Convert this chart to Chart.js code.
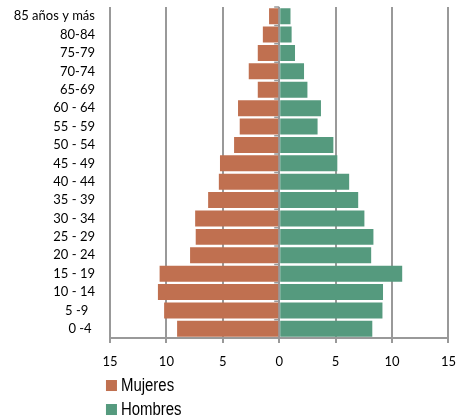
<!DOCTYPE html>
<html>
<head>
<meta charset="utf-8">
<script src="https://cdn.jsdelivr.net/npm/chart.js@4"></script>
<style>
  body { margin: 0; background: #fff; }
  #wrap { width: 459px; height: 419px; position: relative; }
</style>
</head>
<body>
<div id="wrap"><canvas id="myChart"></canvas></div>
<script>
const ageGroups = ["85 años y más", "80-84", "75-79", "70-74", "65-69", "60 - 64", "55 - 59",
    "50 - 54", "45 - 49", "40 - 44", "35 - 39", "30 - 34", "25 - 29", "20 - 24",
    "15 - 19", "10 - 14", "5 -9  ", "0 -4 "];
const mujeres = [0.9, 1.45, 1.9, 2.7, 1.9, 3.65, 3.5, 4.0, 5.25, 5.35, 6.3, 7.45, 7.4, 7.9,
    10.6, 10.75, 10.2, 9.05];
const hombres = [1.0, 1.1, 1.4, 2.2, 2.5, 3.7, 3.4, 4.8, 5.15, 6.2, 7.0, 7.55, 8.35, 8.15,
    10.9, 9.2, 9.15, 8.25];
const xTicks = [-15, -10, -5, 0, 5, 10, 15];

const colMujeres = "#c07050";
const colHombres = "#559a7e";
const gridCol = "#999999";

// legend stacked one item per row, under the axis
const stackLegend = {
    id: "stackLegend",
    afterDraw(chart) {
        const ctx = chart.ctx;
        const left = chart.chartArea.left - 4;
        let y = chart.chartArea.bottom + 47.5;
        ctx.save();
        ctx.font = "18px 'Liberation Sans', sans-serif";
        ctx.textBaseline = "middle";
        chart.data.datasets.forEach(ds => {
            ctx.fillStyle = ds.backgroundColor;
            ctx.fillRect(left, y - 5.5, 11, 11);
            ctx.fillStyle = "#000";
            // narrow type, like Arial Narrow
            ctx.save();
            ctx.translate(left + 15, y + 0.5);
            ctx.scale(0.83, 1);
            ctx.fillText(ds.label, 0, 0);
            ctx.restore();
            y += 24;
        });
        ctx.restore();
    }
};

// small tick marks on the zero line between the age groups
const zeroTicks = {
    id: "zeroTicks",
    afterDatasetsDraw(chart) {
        const ctx = chart.ctx;
        const xs = chart.scales.x, ys = chart.scales.y;
        const x0 = xs.getPixelForValue(0);
        const step = ys.getPixelForValue(1) - ys.getPixelForValue(0);
        ctx.save();
        ctx.strokeStyle = gridCol;
        ctx.lineWidth = 1.5;
        ctx.beginPath();
        for (let i = 0; i <= ageGroups.length; i++) {
            const y = ys.getPixelForValue(0) - step / 2 + i * step;
            ctx.moveTo(x0 - 5, y);
            ctx.lineTo(x0, y);
        }
        ctx.stroke();
        ctx.restore();
    }
};

new Chart("myChart", {
    type: "bar",
    data: {
        labels: ageGroups,
        datasets: [{
            label: "Mujeres",
            data: mujeres.map(v => -v),
            backgroundColor: colMujeres,
            barPercentage: 0.87,
            categoryPercentage: 1
        }, {
            label: "Hombres",
            data: hombres,
            backgroundColor: colHombres,
            barPercentage: 0.87,
            categoryPercentage: 1
        }]
    },
    options: {
        indexAxis: "y",
        responsive: true,
        maintainAspectRatio: false,
        animation: false,
        layout: { padding: { left: 13.7, right: 0, top: 7, bottom: 38 } },
        plugins: {
            legend: { display: false },
            tooltip: { enabled: false }
        },
        scales: {
            x: {
                stacked: true,
                min: -15,
                max: 15,
                afterBuildTicks: axis => { axis.ticks = xTicks.map(v => ({ value: v })); },
                ticks: {
                    callback: v => Math.abs(v),
                    color: "#000",
                    padding: 3,
                    font: { family: "Lato", size: 13, lineHeight: 2.46 }
                },
                grid: { color: gridCol, lineWidth: 2, tickLength: 5 },
                border: { color: gridCol, width: 2 }
            },
            y: {
                stacked: true,
                ticks: {
                    color: "#000",
                    padding: 0,
                    autoSkip: false,
                    font: { family: "Lato", size: 13, lineHeight: 1 }
                },
                grid: { display: false, drawTicks: true, tickLength: 15 },
                border: { display: false }
            }
        }
    },
    plugins: [zeroTicks, stackLegend]
});
</script>
</body>
</html>
